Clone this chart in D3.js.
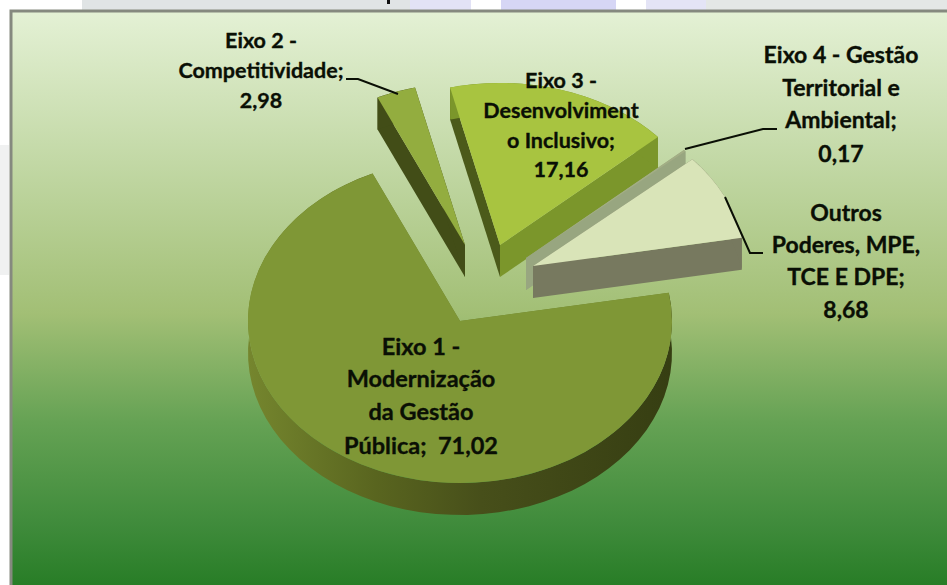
<!DOCTYPE html>
<html lang="en">
<head>
    <meta charset="UTF-8">
    <title>Eixos</title>
    <script src="https://cdnjs.cloudflare.com/ajax/libs/d3/7.8.5/d3.min.js"></script>
    <style>
        html, body { margin: 0; padding: 0; background: #fff; overflow: hidden; }
        svg { display: block; }
        text { font-family: Lato, "Open Sans", sans-serif; font-weight: 700; fill: #0a0f05; stroke: #0a0f05; stroke-width: 0.35px; text-anchor: middle; }
    </style>
</head>
<body>
<div id="chart"></div>
<script>
    // Chart data
    const categories = ['Eixo 1', 'Eixo 2', 'Eixo 3', 'Eixo 4', 'Outros'];
    const values = [71.02, 2.98, 17.16, 0.17, 8.68];
    const labelLines = [
        ['Eixo 1 -', 'Modernização', 'da Gestão', 'Pública;  71,02'],
        ['Eixo 2 -', 'Competitividade;', '2,98'],
        ['Eixo 3 -', 'Desenvolviment', 'o Inclusivo;', '17,16'],
        ['Eixo 4 - Gestão', 'Territorial e', 'Ambiental;', '0,17'],
        ['Outros', 'Poderes, MPE,', 'TCE E DPE;', '8,68']
    ];

    // Layout
    const width = 947, height = 585;
    const cx = 460, cy = 321, rx = 212, ry = 162, depth = 32;
    const explode = [[0, 0], [5, -76], [40, -76], [66, -63], [73, -55]];
    const labelPos = [
        { x: 421, ys: [355, 387, 420, 454], size: 23.5 },
        { x: 261, ys: [48, 78, 108], size: 21.5 },
        { x: 561, ys: [88, 118, 148, 177], size: 21.5 },
        { x: 841, ys: [63, 96, 128, 162], size: 23 },
        { x: 846, ys: [221, 253, 285, 318], size: 23 }
    ];
    const leaders = [
        [[346, 79], [358, 79], [398, 94]],
        [[777, 129], [763, 129], [685, 149]],
        [[725, 197], [750, 253], [763, 253]]
    ];

    // Colours
    const faceColors = ['#7f9736', '#93ad3f', '#a8c440', '#a3ae85', '#d9e4b8'];
    const startWall = ['#6e8030', '#424d17', '#4b5a1a', '#98a680', '#77795f'];
    const endWall = ['#6e8030', '#424d17', '#7b962b', '#98a680', '#77795f'];
    const arcWall = ['url(#wallGrad)', '#424d17', '#7b962b', '#98a680', '#77795f'];

    const svg = d3.select('#chart').append('svg')
        .attr('width', width)
        .attr('height', height);

    const defs = svg.append('defs');

    const bgGrad = defs.append('linearGradient')
        .attr('id', 'bgGrad')
        .attr('x1', 0).attr('x2', 0).attr('y1', 0).attr('y2', 1);
    [[0, '#e4f1d5'], [0.25, '#c2d8a5'], [0.5, '#a2bf75'], [0.68, '#65a254'], [0.85, '#3f8b3b'], [1, '#1c761c']]
        .forEach(s => bgGrad.append('stop').attr('offset', s[0]).attr('stop-color', s[1]));

    // Coordinates here are relative to the slice apex
    const wallGrad = defs.append('linearGradient')
        .attr('id', 'wallGrad')
        .attr('gradientUnits', 'userSpaceOnUse')
        .attr('x1', -rx).attr('x2', rx).attr('y1', 0).attr('y2', 0);
    [[0, '#75862e'], [0.3, '#59651f'], [0.55, '#474f1a'], [1, '#363e12']]
        .forEach(s => wallGrad.append('stop').attr('offset', s[0]).attr('stop-color', s[1]));

    // Faded page header behind the chart
    const strip = svg.append('g');
    [[82, 328, '#e0e4e5'], [410, 61, '#e2e2f6'], [501, 115, '#d6d6f5'], [646, 60, '#e4e4f6'], [706, 241, '#e4e7e6']]
        .forEach(b => strip.append('rect')
            .attr('x', b[0]).attr('y', 0)
            .attr('width', b[1]).attr('height', 10)
            .attr('fill', b[2]));
    strip.append('rect').attr('x', 387).attr('y', 0).attr('width', 3).attr('height', 4).attr('fill', '#111');
    strip.append('rect').attr('x', 0).attr('y', 145).attr('width', 9).attr('height', 130).attr('fill', '#f0f1f1');

    // Chart panel
    svg.append('rect')
        .attr('x', 11).attr('y', 11)
        .attr('width', width + 20).attr('height', height + 20)
        .attr('fill', 'url(#bgGrad)')
        .attr('stroke', '#85897f')
        .attr('stroke-width', 3);

    // Pie angles, first slice starts near 80 degrees clockwise from north
    const pie = d3.pie().sort(null).value(d => d)
        .startAngle(80 * Math.PI / 180)
        .endAngle(80 * Math.PI / 180 + 2 * Math.PI);
    const slices = pie(values);

    const arc = d3.arc().innerRadius(0).outerRadius(rx);
    const line = d3.line();

    // Point on the tilted rim, relative to the slice apex
    function rim(a, drop) {
        return [rx * Math.sin(a), -ry * Math.cos(a) + drop];
    }

    const sliceG = svg.selectAll('g.slice')
        .data(slices)
        .enter()
        .append('g')
        .attr('class', 'slice')
        .attr('transform', (d, i) => `translate(${cx + explode[i][0]},${cy + explode[i][1]})`);

    // Radial walls, hidden ones end up under the top face
    sliceG.append('path')
        .attr('d', d => line([[0, 0], rim(d.startAngle, 0), rim(d.startAngle, depth), [0, depth]]))
        .attr('fill', (d, i) => startWall[i]);
    sliceG.append('path')
        .attr('d', d => line([[0, 0], rim(d.endAngle, 0), rim(d.endAngle, depth), [0, depth]]))
        .attr('fill', (d, i) => endWall[i]);

    // Outer wall
    sliceG.append('path')
        .attr('d', d => {
            const steps = d3.range(0, 61).map(k => d.startAngle + (d.endAngle - d.startAngle) * k / 60);
            const top = steps.map(a => rim(a, 0));
            const bottom = steps.slice().reverse().map(a => rim(a, depth));
            return line(top.concat(bottom)) + 'Z';
        })
        .attr('fill', (d, i) => arcWall[i]);

    // Top face
    sliceG.append('path')
        .attr('transform', `scale(1,${ry / rx})`)
        .attr('d', arc)
        .attr('fill', (d, i) => faceColors[i]);

    // Leader lines
    svg.selectAll('path.leader')
        .data(leaders)
        .enter()
        .append('path')
        .attr('class', 'leader')
        .attr('d', line)
        .attr('fill', 'none')
        .attr('stroke', '#0a0f05')
        .attr('stroke-width', 2);

    // Labels
    const labels = svg.selectAll('text.label')
        .data(categories)
        .enter()
        .append('text')
        .attr('class', 'label')
        .style('font-size', (d, i) => labelPos[i].size + 'px');

    labels.each(function(d, i) {
        d3.select(this).selectAll('tspan')
            .data(labelLines[i])
            .enter()
            .append('tspan')
            .attr('x', labelPos[i].x)
            .attr('y', (t, j) => labelPos[i].ys[j])
            .attr('xml:space', 'preserve')
            .text(t => t);
    });
</script>
</body>
</html>
